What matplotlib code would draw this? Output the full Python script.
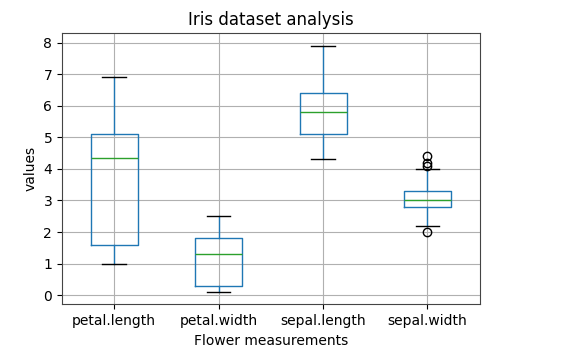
import matplotlib
matplotlib.use("Agg")
import matplotlib.pyplot as plt

categories = ["petal.length", "petal.width", "sepal.length", "sepal.width"]
whislo = [1.0, 0.1, 4.3, 2.2]
q1 = [1.6, 0.3, 5.1, 2.8]
med = [4.35, 1.3, 5.8, 3.0]
q3 = [5.1, 1.8, 6.4, 3.3]
whishi = [6.9, 2.5, 7.9, 4.0]
fliers = [[], [], [], [4.4, 4.1, 4.2, 2.0]]

stats = []
for i, name in enumerate(categories):
    stats.append(dict(label=name, whislo=whislo[i], q1=q1[i], med=med[i],
                      q3=q3[i], whishi=whishi[i], fliers=fliers[i]))

fig = plt.figure(figsize=(5.63, 3.59), dpi=100)
ax = fig.add_axes([0.110, 0.152, 0.742, 0.755])
ax.bxp(stats, positions=[1, 2, 3, 4],
       boxprops=dict(color="C0"), whiskerprops=dict(color="C0"),
       medianprops=dict(color="C2"), capprops=dict(color="k"),
       flierprops=dict(marker="o", markeredgecolor="k", markerfacecolor="none"))
ax.grid(True)
ax.set_axisbelow(True)
ax.set_yticks(range(0, 9))
ax.set_ylim(-0.29, 8.29)
for s in ax.spines.values():
    s.set_edgecolor("#444444")
ax.set_title("Iris dataset analysis")
ax.set_xlabel("Flower measurements")
ax.set_ylabel("values")
fig.savefig("out.png", dpi=100)
